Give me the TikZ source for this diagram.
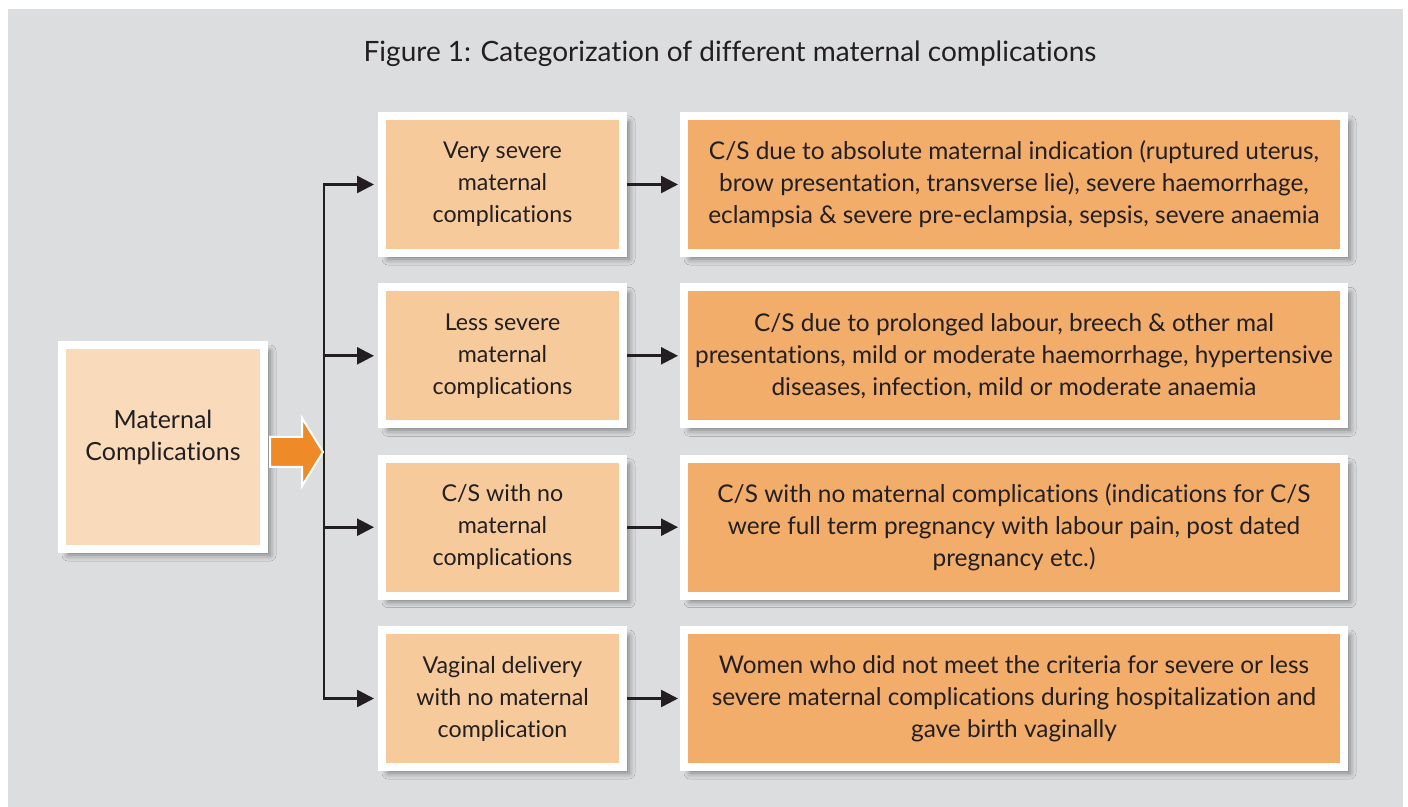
\documentclass[tikz,border=0pt]{standalone}
\usepackage{fontspec}
\setmainfont{Lato}[Ligatures=NoCommon]
\usetikzlibrary{arrows.meta,shadows.blur,calc}
\definecolor{bggray}{HTML}{DCDDDF}
\definecolor{peach}{HTML}{F9DBBC}
\definecolor{midor}{HTML}{F7CA9C}
\definecolor{deepor}{HTML}{F2AD6A}
\definecolor{arrowor}{HTML}{EE8A28}
\definecolor{ink}{HTML}{231F20}
\begin{document}
\begin{tikzpicture}[x=0.5pt,y=-0.5pt,
  box/.style={draw=white, line width=4pt, align=center, text=ink, inner sep=0pt,
    blur shadow={shadow xshift=3pt, shadow yshift=-3pt, shadow blur radius=3pt, shadow opacity=45},
    font=\fontsize{11.6}{16}\selectfont},
  mainbox/.style={box, fill=peach, minimum width=101pt, minimum height=102pt},
  maintext/.style={align=center, text=ink, inner sep=0pt, font=\fontsize{12.5}{16}\selectfont},
  midbox/.style={box, fill=midor, minimum width=120.5pt, minimum height=68.5pt},
  rightbox/.style={box, fill=deepor, minimum width=330pt, minimum height=68.5pt,
    font=\fontsize{12.2}{16}\selectfont},
  conn/.style={line width=1.3pt, draw=ink, -{Triangle[length=8.5pt,width=8.5pt]}},
  trunk/.style={line width=1.3pt, draw=ink, line cap=rect},
  bigarrow/.style={fill=arrowor, draw=white, line width=1pt, line join=miter}
]
% canvas and grey panel
\useasboundingbox (0,0) rectangle (1408,807);
\fill[white] (0,0) rectangle (1408,807);
\fill[bggray] (8,9) rectangle (1403,807);

% title
\node[text=ink, font=\fontsize{14}{16}\selectfont] (title) at (730,54)
  {Figure 1: Categorization of different maternal complications};

% root box, its label sitting a little above centre
\node[mainbox] (main) at (163,447) {};
\node[maintext] (mainlabel) at (163,437) {Maternal\\Complications};

% category boxes
\node[midbox] (m1) at (502.5,184.5) {Very severe\\maternal\\complications};
\node[midbox] (m2) at (502.5,355.8) {Less severe\\maternal\\complications};
\node[midbox] (m3) at (502.5,527.2) {C/S with no\\maternal\\complications};
\node[midbox] (m4) at (502.5,698.5) {Vaginal delivery\\with no maternal\\complication};

% description boxes
\node[rightbox] (r1) at (1014,184.5) {C/S due to absolute maternal indication (ruptured uterus,\\brow presentation, transverse lie), severe haemorrhage,\\eclampsia \& severe pre-eclampsia, sepsis, severe anaemia};
\node[rightbox] (r2) at (1014,355.8) {C/S due to prolonged labour, breech \& other mal\\presentations, mild or moderate haemorrhage, hypertensive\\diseases, infection, mild or moderate anaemia};
\node[rightbox] (r3) at (1014,527.2) {C/S with no maternal complications (indications for C/S\\were full term pregnancy with labour pain, post dated\\pregnancy etc.)};
\node[rightbox] (r4) at (1014,698.5) {Women who did not meet the criteria for severe or less\\severe maternal complications during hospitalization and\\gave birth vaginally};

% branching trunk
\coordinate (t1) at (324,184.5);
\coordinate (t2) at (324,355.8);
\coordinate (t3) at (324,527.2);
\coordinate (t4) at (324,698.5);
\coordinate (tip) at (323,452);
\draw[trunk] (t1) -- (t4);
\foreach \i in {1,...,4}{
  \draw[conn, shorten >=2pt] (t\i) -- (m\i.west);
  \draw[conn, shorten >=1pt] (m\i.east) -- (r\i.west);
}

% thick orange arrow from the root box to the trunk
\draw[bigarrow] ($(main.east)+(2,-10)$) -- ($(tip)+(-21,-15)$) -- ($(tip)+(-21,-34)$)
  -- (tip) -- ($(tip)+(-21,34)$) -- ($(tip)+(-21,15)$) -- ($(main.east)+(2,20)$) -- cycle;
\end{tikzpicture}
\end{document}
